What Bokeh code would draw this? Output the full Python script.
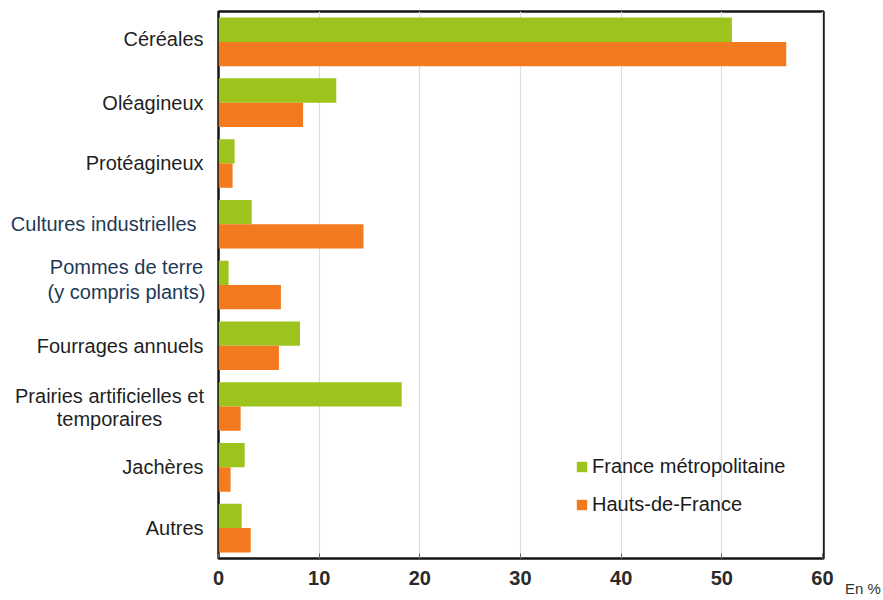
from bokeh.plotting import figure
from bokeh.layouts import row
from bokeh.models import Range1d, Legend, LegendItem, FixedTicker, ColumnDataSource
from bokeh.core.properties import value
from bokeh.embed import file_html
from bokeh.resources import INLINE

# Share of arable land by crop group (%)
categories = [
    "Céréales",
    "Oléagineux",
    "Protéagineux",
    "Cultures industrielles",
    "Pommes de terre\n(y compris plants)",
    "Fourrages annuels",
    "Prairies artificielles et\ntemporaires",
    "Jachères",
    "Autres",
]
france_metro = [51.0, 11.7, 1.6, 3.3, 1.0, 8.1, 18.2, 2.6, 2.3]
hauts_de_france = [56.4, 8.4, 1.4, 14.4, 6.2, 6.0, 2.2, 1.2, 3.2]
series_names = ["France métropolitaine", "Hauts-de-France"]
x_ticks = [0, 10, 20, 30, 40, 50, 60]
unit_note = "En %"

GREEN = "#9cc41c"
ORANGE = "#f37a1e"
FONT = "Liberation Sans"
TOP, BOTTOM = 11, 42          # vertical borders shared by all panels
LEFT_W = 208                  # width of the category-label panel
RIGHT_W = 48                  # width of the unit-note panel

n = len(categories)
pos = list(range(n))
bar_h = 0.40
y_range = Range1d(n - 0.5, -0.5)

src = ColumnDataSource(dict(
    pos_metro=[q - bar_h / 2 for q in pos],
    pos_hdf=[q + bar_h / 2 for q in pos],
    metro=france_metro,
    hdf=hauts_de_france,
))

# ---- main bar panel -------------------------------------------------------
main_w = 883 - LEFT_W - RIGHT_W
p = figure(
    width=main_w, height=600,
    x_range=Range1d(0, 60.1), y_range=y_range,
    output_backend="svg", toolbar_location=None,
    min_border_left=10, min_border_right=12,
    min_border_top=TOP, min_border_bottom=BOTTOM,
)
p.background_fill_color = "white"
p.border_fill_color = "white"
p.outline_line_color = "#151515"
p.outline_line_width = 2.5

r1 = p.hbar(y="pos_metro", right="metro", left=0, height=bar_h, source=src,
            fill_color=GREEN, line_color=None)
r2 = p.hbar(y="pos_hdf", right="hdf", left=0, height=bar_h, source=src,
            fill_color=ORANGE, line_color=None)

p.yaxis.visible = False
p.ygrid.visible = False
p.xgrid.grid_line_color = "#d9dee3"
p.xgrid.grid_line_width = 1.2
p.xaxis.ticker = FixedTicker(ticks=x_ticks)
p.xaxis.axis_line_color = None
p.xaxis.major_tick_in = 5
p.xaxis.major_tick_out = 0
p.xaxis.major_tick_line_color = "#666666"
p.xaxis.minor_tick_line_color = None
p.xaxis.major_label_standoff = 12
p.xaxis.major_label_text_font = FONT
p.xaxis.major_label_text_font_size = "20px"
p.xaxis.major_label_text_font_style = "bold"
p.xaxis.major_label_text_color = "#2a2a2a"

legend = Legend(
    items=[LegendItem(label=series_names[0], renderers=[r1]),
           LegendItem(label=series_names[1], renderers=[r2])],
    location=(357, 42),
    border_line_color=None, background_fill_alpha=0,
    label_text_font=FONT, label_text_font_size="20px",
    label_text_color="#1a1a1a",
    glyph_width=13, glyph_height=13, label_standoff=4,
    spacing=15, padding=0, margin=0,
)
p.add_layout(legend, "center")

# ---- category label panel (x measured in pixels) ----------------------------
lab = figure(
    width=LEFT_W, height=600,
    x_range=Range1d(0, LEFT_W), y_range=y_range,
    output_backend="svg", toolbar_location=None,
    min_border_left=0, min_border_right=0,
    min_border_top=TOP, min_border_bottom=BOTTOM,
)
lab.axis.visible = False
lab.grid.visible = False
lab.outline_line_color = None
lab.background_fill_color = "white"
lab.border_fill_color = "white"

dark, blue = "#1f1f1f", "#1e3a56"
tx, ty, tt, tc, ta = [], [], [], [], []
for i, cat in enumerate(categories):
    col = blue if i in (3, 4) else dark
    lines = cat.split("\n")
    if len(lines) == 1:
        tx.append(196 if i == 3 else 203)
        ty.append(i - (0.05 if i == 0 else 0.0))
        tt.append(cat)
        tc.append(col)
        ta.append("right")
    else:
        cx = 109 if i == 6 else 126
        offs = (-0.17, 0.21) if i == 6 else (-0.29, 0.11)
        for k, line in enumerate(lines):
            tx.append(cx)
            ty.append(i + offs[k])
            tt.append(line)
            tc.append(col)
            ta.append("center")

lab.text(x=tx, y=ty, text=tt, text_color=tc, text_align=ta,
         text_baseline="middle", text_font=value(FONT),
         text_font_size="20px")

# ---- unit note panel: a bare axis carrying the unit -------------------------
unit = figure(
    width=RIGHT_W, height=600,
    x_range=Range1d(0, RIGHT_W), y_range=y_range,
    output_backend="svg", toolbar_location=None,
    min_border_left=0, min_border_right=0,
    min_border_top=TOP, min_border_bottom=BOTTOM,
)
unit.yaxis.visible = False
unit.grid.visible = False
unit.outline_line_color = None
unit.background_fill_color = "white"
unit.border_fill_color = "white"
unit.xaxis.ticker = FixedTicker(ticks=[27.5])
unit.xaxis.major_label_overrides = {27.5: unit_note}
unit.xaxis.axis_line_color = None
unit.xaxis.major_tick_line_color = None
unit.xaxis.minor_tick_line_color = None
unit.xaxis.major_label_standoff = 15
unit.xaxis.major_label_text_font = FONT
unit.xaxis.major_label_text_font_size = "15px"
unit.xaxis.major_label_text_color = "#333333"

layout = row(lab, p, unit, spacing=0)
open("out.html", "w").write(file_html(layout, INLINE))
